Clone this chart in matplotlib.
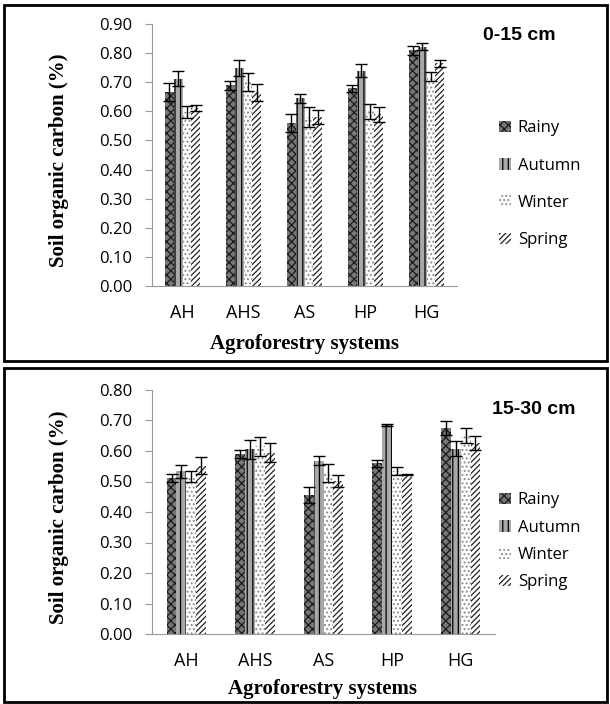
import numpy as np
import matplotlib
matplotlib.use("Agg")
import matplotlib.pyplot as plt
from matplotlib.patches import Rectangle

systems = ["AH", "AHS", "AS", "HP", "HG"]
seasons = ["Rainy", "Autumn", "Winter", "Spring"]

# 0-15 cm depth
top_vals = {
    "Rainy":  [0.667, 0.690, 0.560, 0.680, 0.810],
    "Autumn": [0.712, 0.748, 0.645, 0.740, 0.822],
    "Winter": [0.598, 0.700, 0.580, 0.600, 0.720],
    "Spring": [0.612, 0.665, 0.580, 0.590, 0.766],
}
top_err = {
    "Rainy":  [0.030, 0.015, 0.030, 0.012, 0.015],
    "Autumn": [0.025, 0.027, 0.015, 0.022, 0.012],
    "Winter": [0.020, 0.030, 0.035, 0.025, 0.015],
    "Spring": [0.010, 0.030, 0.025, 0.025, 0.012],
}
# 15-30 cm depth
bot_vals = {
    "Rainy":  [0.511, 0.590, 0.456, 0.560, 0.675],
    "Autumn": [0.533, 0.605, 0.568, 0.686, 0.608],
    "Winter": [0.518, 0.615, 0.528, 0.534, 0.650],
    "Spring": [0.552, 0.595, 0.502, 0.522, 0.626],
}
bot_err = {
    "Rainy":  [0.012, 0.012, 0.027, 0.012, 0.024],
    "Autumn": [0.020, 0.030, 0.015, 0.004, 0.025],
    "Winter": [0.018, 0.032, 0.030, 0.012, 0.025],
    "Spring": [0.027, 0.032, 0.020, 0.002, 0.022],
}

STYLE = {
    "Rainy":  dict(color="#777777", hatch="xxxx", edgecolor="#1a1a1a"),
    "Autumn": dict(color="#a8a8a8", hatch="|||", edgecolor="#000000"),
    "Winter": dict(color="#ffffff", hatch="....", edgecolor="#8a8a8a"),
    "Spring": dict(color="#ffffff", hatch="//////", edgecolor="#222222"),
}

TICK_FONT = "Open Sans"
SERIF = "Liberation Serif"
plt.rcParams["hatch.linewidth"] = 0.9


def panel(ax, vals, errs, ymax, label, title_xy, leg_anchor, leg_space, ylab_x):
    x = np.arange(len(systems))
    w = 0.143
    for i, s in enumerate(seasons):
        st = STYLE[s]
        ax.bar(x + (i - 1.5) * w, vals[s], w, yerr=errs[s], color=st["color"],
               hatch=st["hatch"], edgecolor=st["edgecolor"], linewidth=0,
               capsize=4, label=s,
               error_kw={"elinewidth": 1, "capthick": 1, "ecolor": "black"})
    ax.set_xlim(-0.5, len(systems) - 0.5)
    ax.set_ylim(0, ymax)
    ticks = np.arange(0, ymax + 0.001, 0.1)
    ax.set_yticks(ticks)
    ax.set_yticklabels([f"{v:.2f}" for v in ticks], fontsize=12, family=TICK_FONT)
    ax.set_xticks(x)
    ax.set_xticklabels(systems, fontsize=13, family=TICK_FONT)
    ax.tick_params(axis="x", length=0, pad=13)
    ax.tick_params(axis="y", length=5, color="#999999", pad=9)
    for sp in ["top", "right"]:
        ax.spines[sp].set_visible(False)
    for sp in ["left", "bottom"]:
        ax.spines[sp].set_color("#999999")
    ax.text(ylab_x, 0.48, "Soil organic carbon (%)", transform=ax.transAxes,
            rotation=90, ha="center", va="center", fontsize=15,
            fontweight="bold", family=SERIF)
    ax.legend(loc="upper left", bbox_to_anchor=leg_anchor,
              bbox_transform=ax.figure.transFigure, frameon=False,
              prop={"family": TICK_FONT, "size": 12}, handlelength=0.7,
              handleheight=0.7, handletextpad=0.4, labelspacing=leg_space,
              borderpad=0)
    ax.figure.text(title_xy[0], title_xy[1], label, fontsize=14, fontweight="bold",
                   family="Liberation Sans", ha="left", va="center")


fig = plt.figure(figsize=(6.1, 7.04), dpi=100)
W, H = 610, 704

# panel frames
fig.patches.append(Rectangle((4 / W, 1 - 361 / H), 603 / W, 356 / H,
                             transform=fig.transFigure, fill=False,
                             edgecolor="black", linewidth=2))
fig.patches.append(Rectangle((4 / W, 1 - 702 / H), 603 / W, 334 / H,
                             transform=fig.transFigure, fill=False,
                             edgecolor="black", linewidth=2))

ax1 = fig.add_axes([152 / W, 1 - 286 / H, 305 / W, 262 / H])
panel(ax1, top_vals, top_err, 0.9, "0-15 cm", (483 / W, 1 - 36 / H),
      (491 / W, 1 - 112 / H), 1.28, (59 - 152) / 305)
fig.text(304 / W, 1 - 344 / H, "Agroforestry systems", ha="center", va="center",
         fontsize=15, fontweight="bold", family=SERIF)

ax2 = fig.add_axes([152 / W, 1 - 634 / H, 343 / W, 244 / H])
panel(ax2, bot_vals, bot_err, 0.8, "15-30 cm", (492 / W, 1 - 410 / H),
      (491 / W, 1 - 484 / H), 0.68, (59 - 152) / 343)
fig.text(323 / W, 1 - 689 / H, "Agroforestry systems", ha="center", va="center",
         fontsize=15, fontweight="bold", family=SERIF)

fig.savefig("out.png", dpi=100)
